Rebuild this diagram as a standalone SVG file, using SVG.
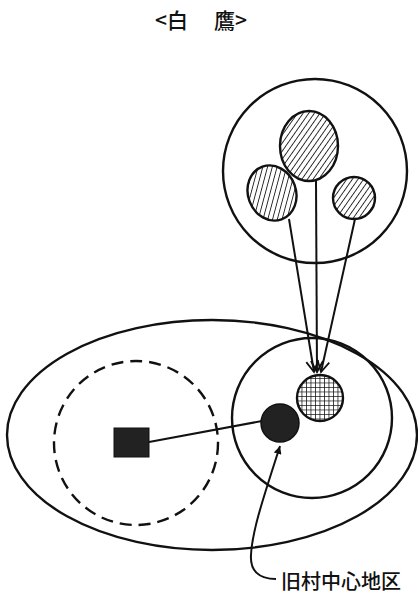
<svg xmlns="http://www.w3.org/2000/svg" width="418" height="596" viewBox="0 0 418 596">
<style>
.o{fill:none;stroke:#111;stroke-width:2.4}
.ln{fill:none;stroke:#111;stroke-width:2}
.t{font-family:"Noto Sans CJK JP","Noto Sans CJK SC",sans-serif;fill:#111}
</style>
<defs>
<pattern id="hatch" width="4.6" height="4.6" patternUnits="userSpaceOnUse" patternTransform="rotate(35)">
<rect width="4.6" height="4.6" fill="#fff"/>
<line x1="0" y1="0" x2="0" y2="4.6" stroke="#111" stroke-width="1.7"/>
</pattern>
<pattern id="grid" width="4.5" height="4.5" patternUnits="userSpaceOnUse">
<rect width="4.5" height="4.5" fill="#fff"/>
<path d="M0,0 H4.5 M0,0 V4.5" stroke="#111" stroke-width="1.5"/>
</pattern>
<marker id="v" viewBox="-12 -7 14 14" markerWidth="14" markerHeight="14" refX="0" refY="0" orient="auto" markerUnits="userSpaceOnUse">
<path d="M-11,-6 L0,0 L-11,6" fill="none" stroke="#111" stroke-width="1.8"/>
</marker>
<marker id="tri" viewBox="-8 -4 9 8" markerWidth="9" markerHeight="8" refX="0" refY="0" orient="auto" markerUnits="userSpaceOnUse">
<path d="M-8,-4 L0,0 L-8,4 Z" fill="#111"/>
</marker>
</defs>
<rect width="418" height="596" fill="#fff"/>
<g id="title">
<text class="t" x="155" y="28" font-size="21" font-weight="500">&lt;白</text>
<text class="t" x="214" y="28" font-size="21" font-weight="500">鷹&gt;</text>
</g>
<g id="outer-area"><ellipse class="o" cx="212" cy="435" rx="205" ry="115"/></g>
<g id="dashed-area"><circle cx="136" cy="443" r="82" fill="none" stroke="#111" stroke-width="2.4" stroke-dasharray="12 7"/></g>
<g id="inner-area"><circle class="o" cx="312" cy="418" r="80"/></g>
<g id="top-area"><circle class="o" cx="315" cy="171" r="92"/></g>
<g id="connectors">
<line class="ln" x1="149" y1="442" x2="262" y2="421"/>
<line class="ln" x1="316" y1="181" x2="317" y2="372" marker-end="url(#v)"/>
<line class="ln" x1="289" y1="219" x2="314" y2="372" marker-end="url(#v)"/>
<line class="ln" x1="355" y1="219" x2="321" y2="372" marker-end="url(#v)"/>
<path class="ln" d="M276,579 C258,579 250,570 251,555 C252,530 266,490 280,446" marker-end="url(#tri)"/>
</g>
<g id="hatched-big"><ellipse cx="309" cy="146" rx="29" ry="35" fill="url(#hatch)" stroke="#111" stroke-width="2.4"/></g>
<g id="hatched-left"><ellipse cx="272" cy="193" rx="24" ry="28" transform="rotate(-20 272 193)" fill="url(#hatch)" stroke="#111" stroke-width="2.4"/></g>
<g id="hatched-right"><circle cx="354" cy="198" r="21" fill="url(#hatch)" stroke="#111" stroke-width="2.4"/></g>
<g id="square"><rect x="114" y="428" width="35" height="29" fill="#222" stroke="#111" stroke-width="1"/></g>
<g id="black-circle"><circle cx="280" cy="423" r="19" fill="#222" stroke="#111" stroke-width="1.5"/></g>
<g id="grid-circle"><circle cx="320" cy="398" r="23" fill="url(#grid)" stroke="#111" stroke-width="2.4"/></g>
<g id="label"><text class="t" x="281" y="589" font-size="20" font-weight="500">旧村中心地区</text></g>
</svg>
